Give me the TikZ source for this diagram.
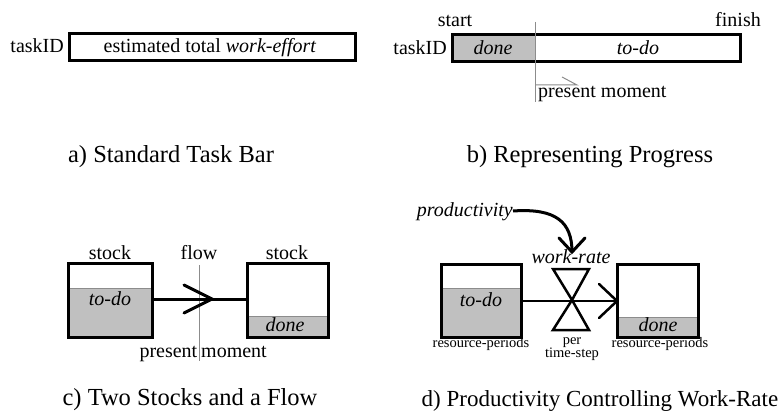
\documentclass[tikz,border=0pt]{standalone}
\usepackage{fontspec}
\setmainfont{Liberation Serif}
\definecolor{boxgray}{RGB}{192,192,192}
\definecolor{linegray}{RGB}{140,140,140}
\begin{document}
\begin{tikzpicture}[x=1pt,y=-1pt,
  body/.style={font=\fontsize{20}{24}\selectfont, inner sep=0pt},
  captxt/.style={font=\fontsize{24.5}{29}\selectfont, inner sep=0pt},
  small/.style={font=\fontsize{14.5}{16}\selectfont, inner sep=0pt},
  barbox/.style={draw, line width=3pt, inner sep=0pt},
  fillbox/.style={fill=boxgray, inner sep=0pt, anchor=north west},
  thinline/.style={draw=linegray, line width=1pt},
  chev/.style={line width=3pt, line cap=round, line join=miter}
]
\useasboundingbox (0,0) rectangle (784,414);

% ---------- a) ----------
\node[barbox, body, minimum width=286pt, minimum height=27pt] (abar) at (212,47) {};
\node[body, anchor=base] (atext) at (210,53) {estimated total \textit{work-effort}};
\node[body, anchor=base east] (aid) at (64,53) {taskID};
\node[captxt, anchor=base] (capa) at (171,163) {a) Standard Task Bar};

% ---------- b) ----------
\node[fillbox, minimum width=83pt, minimum height=27pt] (bdone) at (452,35) {};
\node[barbox, minimum width=288pt, minimum height=27pt] (bbar) at (596,48.5) {};
\node[body, anchor=base] (bdonet) at (493,55) {\textit{done}};
\node[body, anchor=base] (btodo) at (638,55) {\textit{to-do}};
\node[body, anchor=base east] (bid) at (447,55) {taskID};
\node[body, anchor=base] (bstart) at (455,27) {start};
\node[body, anchor=base] (bfinish) at (738,27) {finish};
\coordinate (btop) at (535,22);
\coordinate (bbot) at (535,102);
\draw[thinline] (btop) -- (bbot);
\coordinate (barrs) at (535,85);
\coordinate (barre) at (577,85);
\draw[linegray, line width=1pt] (barrs) -- (barre) -- (562,77);
\node[body, anchor=base west] (bpm) at (538,98) {present moment};
\node[captxt, anchor=base] (capb) at (590,163) {b) Representing Progress};

% ---------- c) ----------
\node[fillbox, minimum width=84pt, minimum height=49pt] (cfill1) at (68,288) {};
\node[barbox, minimum width=84pt, minimum height=74pt] (cstock1) at (110,300) {};
\draw[linegray, line width=1pt] (69.5,288) -- (150.5,288);
\node[fillbox, minimum width=81pt, minimum height=21pt] (cfill2) at (247,316) {};
\node[barbox, minimum width=81pt, minimum height=74pt] (cstock2) at (287.5,300) {};
\draw[linegray, line width=1pt] (248.5,316) -- (326.5,316);
\node[body, anchor=base] (cs1) at (110,259) {stock};
\node[body, anchor=base] (cs2) at (287,259) {stock};
\node[body, anchor=base] (ctodo) at (110,305) {\textit{to-do}};
\node[body, anchor=base] (cdone) at (285,331) {\textit{done}};
\coordinate (ctop) at (199,265);
\coordinate (cbot) at (199,361);
\draw[thinline] (ctop) -- (cbot);
\node[body, anchor=base] (cflow) at (199,259) {flow};
\node[body, anchor=base east] (cpres) at (197.5,357) {present};
\node[body, anchor=base west] (cmom) at (201,357) {moment};
\draw[line width=3pt] (cstock1.east |- 0,299) -- (cstock2.west |- 0,299);
\draw[chev] (184,285) -- (212,299) -- (184,313);
\node[captxt, anchor=base] (capc) at (190,405) {c) Two Stocks and a Flow};

% ---------- d) ----------
\node[fillbox, minimum width=80pt, minimum height=49pt] (dfill1) at (441,288) {};
\node[barbox, minimum width=80pt, minimum height=73pt] (dstock1) at (481,300.5) {};
\draw[linegray, line width=1pt] (442.5,288) -- (519.5,288);
\node[fillbox, minimum width=81pt, minimum height=20pt] (dfill2) at (617,317) {};
\node[barbox, minimum width=81pt, minimum height=73pt] (dstock2) at (657.5,300.5) {};
\draw[linegray, line width=1pt] (618.5,317) -- (696.5,317);
\node[body, anchor=base] (dtodo) at (481,306) {\textit{to-do}};
\node[body, anchor=base] (ddone) at (658,331) {\textit{done}};
\node[small, anchor=base] (drp1) at (481,347) {resource-periods};
\node[small, anchor=base] (drp2) at (660,347) {resource-periods};
\node[small, anchor=base] (dper) at (572,344) {per};
\node[small, anchor=base] (dts) at (572,357) {time-step};
\node[body, anchor=base] (dwr) at (571,263) {\textit{work-rate}};
\node[body, anchor=base east] (dprod) at (513,217) {\textit{productivity}};
% valve
\coordinate (vc) at (572,300);
\draw[line width=2.5pt, line join=miter] (553,269) -- (589,269) -- (vc) -- cycle;
\draw[line width=2.5pt, line join=miter] (553,330) -- (589,330) -- (vc) -- cycle;
% flow
\draw[line width=2.5pt] (dstock1.east |- 0,301) -- (dstock2.west |- 0,301);
\draw[chev, line width=2.5pt] (599,284) -- (617,301) -- (599,318);
% productivity arrow
\coordinate (dtip) at (572,252);
\draw[line width=3pt] (dprod.east |- 0,211) .. controls (556,208) and (572,222) .. (dtip);
\draw[chev] (559,238) -- (dtip) -- (585,238);
\node[captxt, anchor=base, font=\fontsize{23}{28}\selectfont] (capd) at (600,406) {d) Productivity Controlling Work-Rate};
\end{tikzpicture}
\end{document}
